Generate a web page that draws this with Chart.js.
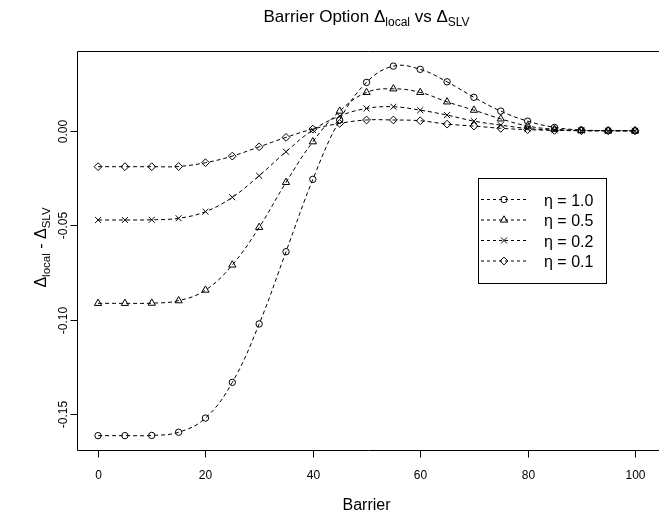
<!DOCTYPE html>
<html><head><meta charset="utf-8">
<script src="https://cdn.jsdelivr.net/npm/chart.js@4/dist/chart.umd.min.js"></script>
<style>html,body{margin:0;padding:0;background:#fff;overflow:hidden}canvas{display:block}</style>
</head><body>
<canvas id="c" width="659" height="513"></canvas>
<script>
const barrier = [0,5,10,15,20,25,30,35,40,45,50,55,60,65,70,75,80,85,90,95,100];
const eta10 = [-0.1613,-0.1613,-0.1612,-0.1595,-0.1520,-0.1331,-0.1022,-0.0640,-0.0257,0.0057,0.0256,0.0342,0.0325,0.0259,0.0177,0.0104,0.0051,0.0018,0.0004,0.0001,0.0000];
const eta05 = [-0.0913,-0.0913,-0.0912,-0.0899,-0.0843,-0.0710,-0.0511,-0.0273,-0.0058,0.0104,0.0203,0.0222,0.0203,0.0153,0.0109,0.0063,0.0025,0.0008,0.0002,0.0000,0.0000];
const eta02 = [-0.0472,-0.0472,-0.0471,-0.0463,-0.0428,-0.0352,-0.0238,-0.0111,0.0004,0.0078,0.0118,0.0127,0.0109,0.0083,0.0051,0.0030,0.0012,0.0004,0.0001,0.0000,0.0000];
const eta01 = [-0.0190,-0.0190,-0.0190,-0.0189,-0.0169,-0.0134,-0.0085,-0.0035,0.0009,0.0039,0.0057,0.0057,0.0053,0.0035,0.0025,0.0013,0.0006,0.0002,0.0000,0.0000,0.0000];
const seriesLabels = ['η = 1.0','η = 0.5','η = 0.2','η = 0.1'];
const xTicks = [0,20,40,60,80,100];
const yTicks = [-0.15,-0.10,-0.05,0.00];
const yTickLabels = ['-0.15','-0.10','-0.05','0.00'];

const FONT = '"Liberation Sans", Arial, Helvetica, sans-serif';
const styles = [
  {pointStyle:'circle', radius:3.2},
  {pointStyle:'triangle', radius:4.2},
  {pointStyle:'crossRot', radius:4.2},
  {pointStyle:'rectRot', radius:3.9}
];
const allSeries = [eta10, eta05, eta02, eta01];

const datasets = allSeries.map((s, i) => ({
  label: seriesLabels[i],
  data: barrier.map((b, j) => ({x: b, y: s[j]})),
  borderColor: '#000',
  borderWidth: 1,
  borderDash: [4,3],
  tension: 0.4,
  fill: false,
  pointStyle: styles[i].pointStyle,
  pointRadius: styles[i].radius,
  pointBorderColor: '#000',
  pointBackgroundColor: 'rgba(0,0,0,0)',
  pointBorderWidth: 1
}));

function richWidth(ctx, parts){
  let w = 0;
  for (const p of parts){ ctx.font = p.size + 'px ' + FONT; w += ctx.measureText(p.t).width; }
  return w;
}
function drawRich(ctx, parts, x, y){
  let cx = x;
  for (const p of parts){
    ctx.font = p.size + 'px ' + FONT;
    ctx.fillText(p.t, cx, y + (p.dy || 0));
    cx += ctx.measureText(p.t).width;
  }
}
function marker(ctx, st, x, y){
  ctx.save();
  ctx.setLineDash([]);
  ctx.strokeStyle = '#000';
  ctx.fillStyle = 'rgba(0,0,0,0)';
  ctx.lineWidth = 1;
  Chart.helpers.drawPoint(ctx, {pointStyle: st.pointStyle, radius: st.radius, borderWidth: 1, rotation: 0}, x, y);
  ctx.restore();
}

const axesPlugin = {
  id: 'rAxes',
  afterDraw(chart){
    const ctx = chart.ctx, ca = chart.chartArea;
    const xs = chart.scales.x, ys = chart.scales.y;
    ctx.save();
    ctx.strokeStyle = '#000';
    ctx.fillStyle = '#000';
    ctx.lineWidth = 1;
    ctx.setLineDash([]);
    const L = Math.round(ca.left) + 0.5, T = Math.round(ca.top) + 0.5, B = Math.round(ca.bottom) + 0.5;
    ctx.beginPath();
    ctx.moveTo(chart.width + 5, T); ctx.lineTo(L, T); ctx.lineTo(L, B); ctx.lineTo(chart.width + 5, B);
    ctx.stroke();
    // x ticks
    ctx.font = '12px ' + FONT;
    ctx.textAlign = 'center';
    ctx.textBaseline = 'alphabetic';
    for (const v of xTicks){
      const px = Math.round(xs.getPixelForValue(v)) + 0.5;
      ctx.beginPath(); ctx.moveTo(px, B); ctx.lineTo(px, B + 7); ctx.stroke();
      ctx.fillText(String(v), px, 479);
    }
    // y ticks
    yTicks.forEach((v, i) => {
      const py = Math.round(ys.getPixelForValue(v)) + 0.5;
      ctx.beginPath(); ctx.moveTo(L, py); ctx.lineTo(L - 7, py); ctx.stroke();
      ctx.save();
      ctx.translate(66.5, py);
      ctx.rotate(-Math.PI/2);
      ctx.font = '12px ' + FONT;
      ctx.textAlign = 'center';
      ctx.fillText(yTickLabels[i], 0, 0);
      ctx.restore();
    });
    // title
    ctx.textAlign = 'left';
    const titleParts = [{t:'Barrier Option Δ', size:17},{t:'local', size:12, dy:4},{t:' vs Δ', size:17},{t:'SLV', size:12, dy:4}];
    const cxm = (ca.left + xs.getPixelForValue(104)) / 2;
    drawRich(ctx, titleParts, cxm - richWidth(ctx, titleParts)/2, 22);
    // x label
    ctx.font = '16px ' + FONT;
    ctx.textAlign = 'center';
    ctx.fillText('Barrier', cxm, 510);
    // y label
    ctx.save();
    ctx.translate(45.5, (ca.top + ca.bottom)/2 - 3);
    ctx.rotate(-Math.PI/2);
    ctx.textAlign = 'left';
    const ylParts = [{t:'Δ', size:16},{t:'local', size:11.5, dy:4},{t:' - Δ', size:16},{t:'SLV', size:11.5, dy:4}];
    drawRich(ctx, ylParts, -richWidth(ctx, ylParts)/2, 0);
    ctx.restore();
    // legend
    ctx.fillStyle = '#fff';
    ctx.fillRect(478.5, 178.5, 128, 105);
    ctx.strokeRect(478.5, 178.5, 128, 105);
    ctx.fillStyle = '#000';
    const rows = [199.5, 220, 240.5, 261];
    rows.forEach((ry, i) => {
      ctx.save();
      ctx.setLineDash([3,3]);
      ctx.beginPath(); ctx.moveTo(481, ry); ctx.lineTo(529, ry); ctx.stroke();
      ctx.restore();
      marker(ctx, styles[i], 504, ry);
      ctx.font = '16px ' + FONT;
      ctx.textAlign = 'left';
      ctx.fillStyle = '#000';
      ctx.fillText(seriesLabels[i], 544, ry + 6);
    });
    ctx.restore();
  }
};

new Chart(document.getElementById('c'), {
  type: 'line',
  data: { datasets },
  options: {
    responsive: false,
    devicePixelRatio: 1,
    animation: false,
    events: [],
    layout: { padding: { left: 76.6, right: 0, top: 51, bottom: 63 } },
    scales: {
      x: { type: 'linear', min: -4, max: 103.5, display: false },
      y: { type: 'linear', min: -0.1689, max: 0.0422, display: false }
    },
    plugins: { legend: { display: false }, tooltip: { enabled: false }, title: { display: false } }
  },
  plugins: [axesPlugin]
});
</script>
</body></html>
